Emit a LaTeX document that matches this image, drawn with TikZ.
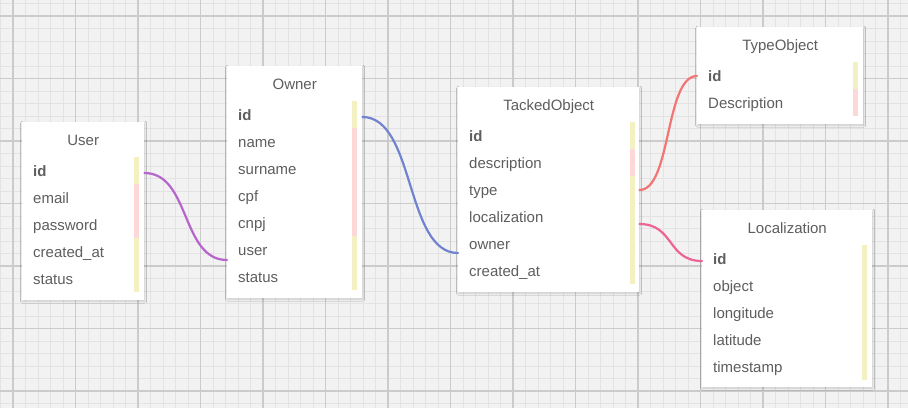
\documentclass[tikz,border=0pt]{standalone}
\usepackage{fontspec}
\setmainfont{Liberation Sans}
\usetikzlibrary{shadows.blur}
\definecolor{bg}{HTML}{F2F2F2}
\definecolor{gminor}{HTML}{E3E3E3}
\definecolor{gmajor}{HTML}{CBCBCB}
\definecolor{txt}{HTML}{5E5E5E}
\definecolor{fieldyellow}{HTML}{F3F0C2}
\definecolor{fieldpink}{HTML}{FCD8D8}
\definecolor{cpurple}{HTML}{B565CC}
\definecolor{cblue}{HTML}{7183CF}
\definecolor{csalmon}{HTML}{F27474}
\definecolor{cpink}{HTML}{EE6395}
\begin{document}
\begin{tikzpicture}[x=1pt,y=-1pt,
  tbl/.style={fill=white,draw=none,inner sep=0pt,anchor=north west,
    blur shadow={shadow xshift=0.5pt,shadow yshift=-1pt,shadow blur radius=2pt,shadow opacity=16}},
  ttl/.style={inner sep=0pt,text=txt,font=\fontsize{15}{18}\selectfont,text height=11pt,text depth=3pt,yshift=-2pt},
  fld/.style={inner sep=0pt,anchor=west,text=txt,font=\fontsize{15}{18}\selectfont,text height=11pt,text depth=3pt,yshift=-2pt},
  conn/.style={line width=2.2pt,line cap=round}
]
\useasboundingbox (0,0) rectangle (908,408);
\begin{scope}
\clip (0,0) rectangle (908,408);
\fill[bg] (0,0) rectangle (908,408);
\foreach \i in {-1,...,71} \draw[gminor,line width=1pt] ({13+12.5*\i},0) -- ({13+12.5*\i},408);
\foreach \j in {-1,...,31} \draw[gminor,line width=1pt] (0,{16+12.5*\j}) -- (908,{16+12.5*\j});
\foreach \i in {0,...,14} \draw[gmajor,line width=1.2pt] ({13+62.5*\i},0) -- ({13+62.5*\i},408);
\foreach \j in {0,...,6} \draw[gmajor,line width=1.2pt] (0,{16+62.5*\j}) -- (908,{16+62.5*\j});
\end{scope}

% ---------- User ----------
\node[tbl,minimum width=122pt,minimum height=178pt] (user) at (22,122) {};
\node[ttl] (userT) at (user.north |- 0,139) {User};
\fill[fieldyellow] (134,157) rectangle (139,184);
\fill[fieldpink] (134,184) rectangle (139,238);
\fill[fieldyellow] (134,238) rectangle (139,292);
\node[fld] (u1) at (33,170) {\textbf{id}};
\node[fld] (u2) at (33,197) {email};
\node[fld] (u3) at (33,224) {password};
\node[fld] (u4) at (33,251) {created\_at};
\node[fld] (u5) at (33,278) {status};

% ---------- Owner ----------
\node[tbl,minimum width=135pt,minimum height=232pt] (owner) at (227,66) {};
\node[ttl] (ownerT) at (owner.north |- 0,83) {Owner};
\fill[fieldyellow] (352,101) rectangle (357,128);
\fill[fieldpink] (352,128) rectangle (357,236);
\fill[fieldyellow] (352,236) rectangle (357,290);
\node[fld] (o1) at (238,114) {\textbf{id}};
\node[fld] (o2) at (238,141) {name};
\node[fld] (o3) at (238,168) {surname};
\node[fld] (o4) at (238,195) {cpf};
\node[fld] (o5) at (238,222) {cnpj};
\node[fld] (o6) at (238,249) {user};
\node[fld] (o7) at (238,276) {status};

% ---------- TackedObject ----------
\node[tbl,minimum width=181pt,minimum height=205pt] (tacked) at (458,87) {};
\node[ttl] (tackedT) at (tacked.north |- 0,104) {TackedObject};
\fill[fieldyellow] (630,122) rectangle (635,149);
\fill[fieldpink] (630,149) rectangle (635,176);
\fill[fieldyellow] (630,176) rectangle (635,284);
\node[fld] (t1) at (469,135) {\textbf{id}};
\node[fld] (t2) at (469,162) {description};
\node[fld] (t3) at (469,189) {type};
\node[fld] (t4) at (469,216) {localization};
\node[fld] (t5) at (469,243) {owner};
\node[fld] (t6) at (469,270) {created\_at};

% ---------- TypeObject ----------
\node[tbl,minimum width=166pt,minimum height=97pt] (type) at (697,27) {};
\node[ttl] (typeT) at (type.north |- 0,44) {TypeObject};
\fill[fieldyellow] (853,62) rectangle (858,89);
\fill[fieldpink] (853,89) rectangle (858,116);
\node[fld] (y1) at (708,75) {\textbf{id}};
\node[fld] (y2) at (708,102) {Description};

% ---------- Localization ----------
\node[tbl,minimum width=170pt,minimum height=177pt] (loc) at (702,210) {};
\node[ttl] (locT) at (loc.north |- 0,227) {Localization};
\fill[fieldyellow] (862,245) rectangle (867,380);
\node[fld] (l1) at (713,258) {\textbf{id}};
\node[fld] (l2) at (713,285) {object};
\node[fld] (l3) at (713,312) {longitude};
\node[fld] (l4) at (713,339) {latitude};
\node[fld] (l5) at (713,366) {timestamp};

% ---------- connectors ----------
\draw[conn,cpurple] (user.east |- 0,173) .. controls +(46,0) and +(-46,0) .. (owner.west |- 0,260);
\draw[conn,cblue] (owner.east |- 0,117) .. controls +(53,0) and +(-53,0) .. (tacked.west |- 0,253);
\draw[conn,csalmon] (tacked.east |- 0,190) .. controls +(32,0) and +(-32,0) .. (type.west |- 0,76);
\draw[conn,cpink] (tacked.east |- 0,224) .. controls +(35,0) and +(-35,0) .. (loc.west |- 0,261);
\end{tikzpicture}
\end{document}
